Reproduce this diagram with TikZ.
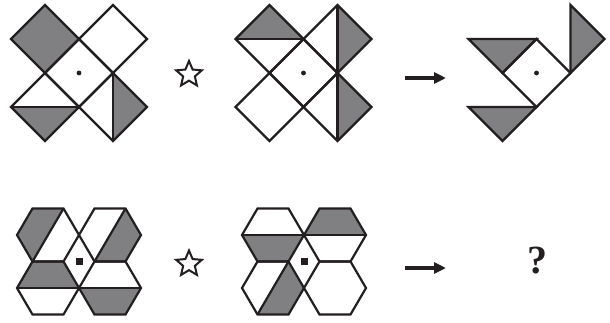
\documentclass[tikz,border=0pt]{standalone}
\usepackage{fontspec}
\setmainfont{Liberation Serif}
\usetikzlibrary{shapes.geometric,arrows.meta}
\definecolor{ink}{RGB}{35,31,32}
\definecolor{shade}{RGB}{128,128,130}
\tikzset{
  ln/.style={line width=2.2pt, draw=ink, line join=miter},
  sh/.style={fill=shade},
  hexo/.pic={\draw[ln] (31,0) -- (15.5,-26.5) -- (-15.5,-26.5) -- (-31,0) -- (-15.5,26.5) -- (15.5,26.5) -- cycle;},
  diao/.pic={\draw[ln] (0,-34) -- (34,0) -- (0,34) -- (-34,0) -- cycle;},
  starmark/.style={star, star points=5, star point ratio=2.2, minimum size=27pt, inner sep=0pt, draw=ink, line width=2pt, line join=miter},
  arr/.style={draw=ink, line width=3.2pt, -{Triangle[length=12pt,width=11pt]}},
}
\begin{document}
\begin{tikzpicture}[x=1pt,y=-1pt]
\useasboundingbox (0,0) rectangle (610,322);
% ---------- figure 1 ----------
\fill[sh] (45,5) -- (79,39) -- (45,73) -- (11,39) -- cycle;
\fill[sh] (11,107) -- (79,107) -- (45,141) -- cycle;
\fill[sh] (113,73) -- (147,107) -- (113,141) -- cycle;
\pic at (45,39) {diao};
\pic at (113,39) {diao};
\pic at (45,107) {diao};
\pic at (113,107) {diao};
\pic at (79,73) {diao};
\draw[ln] (11,107) -- (79,107);
\draw[ln] (113,73) -- (113,141);
\fill[ink] (79,73) circle (2.4);
% ---------- figure 2 ----------
\fill[sh] (235.5,39) -- (269.5,5) -- (303.5,39) -- cycle;
\fill[sh] (337.5,5) -- (371.5,39) -- (337.5,73) -- cycle;
\fill[sh] (337.5,73) -- (371.5,107) -- (337.5,141) -- cycle;
\pic at (269.5,39) {diao};
\pic at (337.5,39) {diao};
\pic at (269.5,107) {diao};
\pic at (337.5,107) {diao};
\pic at (303.5,73) {diao};
\draw[ln] (235.5,39) -- (303.5,39);
\draw[ln] (337.5,5) -- (337.5,141);
\fill[ink] (303.5,73) circle (2.4);
% ---------- figure 3 ----------
\filldraw[sh, ln] (468.5,39) -- (536.5,39) -- (502.5,73) -- cycle;
\filldraw[sh, ln] (570.5,5) -- (604.5,39) -- (570.5,73) -- cycle;
\filldraw[sh, ln] (468.5,107) -- (536.5,107) -- (502.5,141) -- cycle;
\pic at (536.5,73) {diao};
\fill[ink] (536.5,73) circle (2.4);
% ---------- figure 4 ----------
\fill[sh] (32.5,208.5) -- (63.5,208.5) -- (32.5,261.5) -- (17,235) -- cycle;
\fill[sh] (125.5,208.5) -- (141,235) -- (125.5,261.5) -- (94.5,261.5) -- cycle;
\fill[sh] (17,288) -- (32.5,261.5) -- (63.5,261.5) -- (79,288) -- cycle;
\fill[sh] (79,288) -- (141,288) -- (125.5,314.5) -- (94.5,314.5) -- cycle;
\pic at (48,235) {hexo};
\pic at (110,235) {hexo};
\pic at (48,288) {hexo};
\pic at (110,288) {hexo};
\draw[ln] (63.5,208.5) -- (32.5,261.5);
\draw[ln] (125.5,208.5) -- (94.5,261.5);
\draw[ln] (17,288) -- (79,288);
\draw[ln] (79,288) -- (141,288);
\fill[ink] (75.5,258) rectangle (82.5,265);
% ---------- figure 5 ----------
\fill[sh] (242,235) -- (304,235) -- (288.5,261.5) -- (257.5,261.5) -- cycle;
\fill[sh] (304,235) -- (319.5,208.5) -- (350.5,208.5) -- (366,235) -- cycle;
\fill[sh] (288.5,261.5) -- (304,288) -- (288.5,314.5) -- (257.5,314.5) -- cycle;
\pic at (273,235) {hexo};
\pic at (335,235) {hexo};
\pic at (273,288) {hexo};
\pic at (335,288) {hexo};
\draw[ln] (242,235) -- (304,235);
\draw[ln] (304,235) -- (366,235);
\draw[ln] (288.5,261.5) -- (257.5,314.5);
\fill[ink] (300.5,258) rectangle (307.5,265);
% ---------- operators ----------
\node[starmark] (s1) at (189,74.5) {};
\node[starmark] (s2) at (189,264) {};
\coordinate (a1s) at (405,78);
\coordinate (a1e) at (446,78);
\coordinate (a2s) at (405,268);
\coordinate (a2e) at (446,268);
\draw[arr] (a1s) -- (a1e);
\draw[arr] (a2s) -- (a2e);
\node[font=\bfseries\fontsize{40}{40}\selectfont, text=ink, anchor=base, inner sep=0pt] (q) at (537,273.3) {?};
\end{tikzpicture}
\end{document}
